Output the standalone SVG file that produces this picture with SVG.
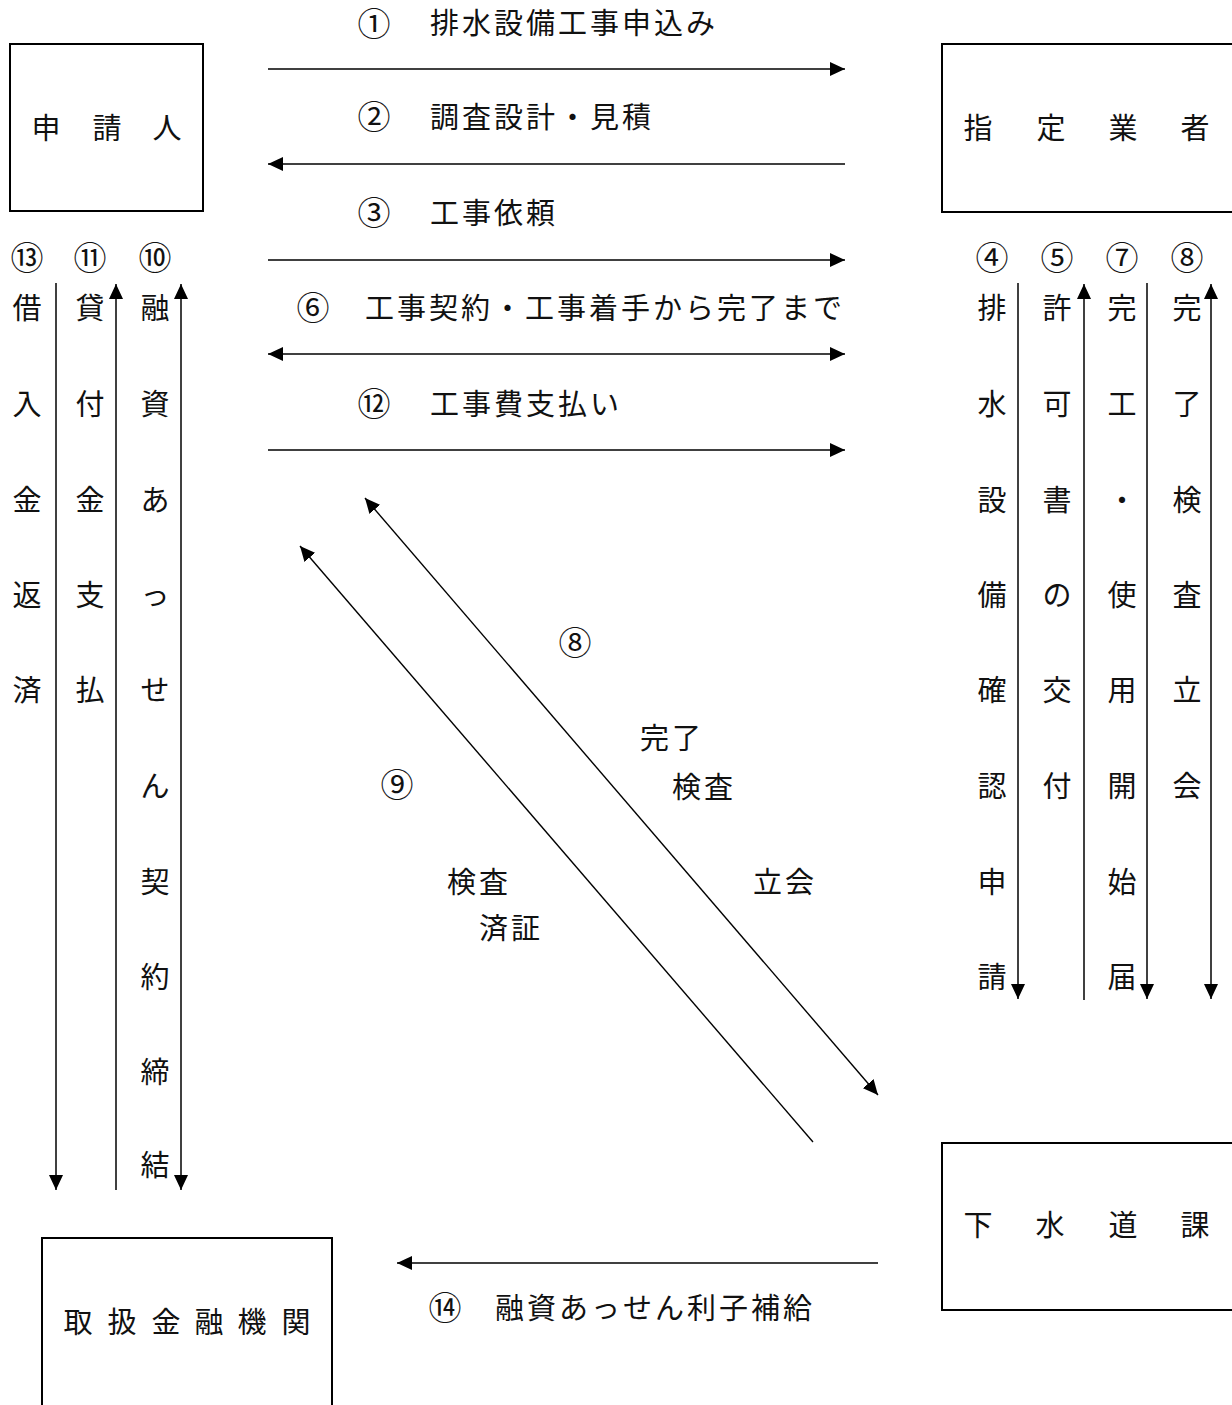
<svg xmlns="http://www.w3.org/2000/svg" width="1232" height="1405" viewBox="0 0 1232 1405">
<style>
text{font-family:"Noto Sans CJK JP","Noto Sans CJK SC",sans-serif;font-size:29px;fill:#111;}
.h{letter-spacing:3px;}
.m{text-anchor:middle;}
.c{text-anchor:middle;font-size:33px;}
.box{fill:#fff;stroke:#000;stroke-width:2;}
.ln{stroke:#000;stroke-width:1.5;fill:none;}
.dg{stroke:#000;stroke-width:1.4;fill:none;}
</style>
<defs>
<marker id="ah" markerUnits="userSpaceOnUse" markerWidth="15" markerHeight="14" refX="15" refY="7" orient="auto-start-reverse" viewBox="0 0 15 14">
<path d="M0,0 L15,7 L0,14 z" fill="#000"/>
</marker>
</defs>
<rect width="1232" height="1405" fill="#fff"/>

<g id="node-shinseinin">
<rect class="box" x="10" y="44" width="193" height="167"/>
<text class="m" x="46" y="139">申</text>
<text class="m" x="107" y="139">請</text>
<text class="m" x="167" y="139">人</text>
</g>

<g id="node-shitei">
<rect class="box" x="942" y="44" width="292" height="168"/>
<text class="m" x="978" y="139">指</text>
<text class="m" x="1051" y="139">定</text>
<text class="m" x="1123" y="139">業</text>
<text class="m" x="1195" y="139">者</text>
</g>

<g id="node-gesuido">
<rect class="box" x="942" y="1143" width="292" height="167"/>
<text class="m" x="978" y="1236">下</text>
<text class="m" x="1050" y="1236">水</text>
<text class="m" x="1123" y="1236">道</text>
<text class="m" x="1195" y="1236">課</text>
</g>

<g id="node-kinyu">
<rect class="box" x="42" y="1238" width="290" height="180"/>
<text class="m" x="78" y="1333">取</text>
<text class="m" x="122" y="1333">扱</text>
<text class="m" x="166" y="1333">金</text>
<text class="m" x="209" y="1333">融</text>
<text class="m" x="252" y="1333">機</text>
<text class="m" x="296" y="1333">関</text>
</g>

<g id="connectors">
<line class="ln" x1="268" y1="69" x2="845" y2="69" marker-end="url(#ah)"/>
<line class="ln" x1="845" y1="164" x2="268" y2="164" marker-end="url(#ah)"/>
<line class="ln" x1="268" y1="260" x2="845" y2="260" marker-end="url(#ah)"/>
<line class="ln" x1="268" y1="354" x2="845" y2="354" marker-start="url(#ah)" marker-end="url(#ah)"/>
<line class="ln" x1="268" y1="450" x2="845" y2="450" marker-end="url(#ah)"/>
<line class="ln" x1="878" y1="1263" x2="397" y2="1263" marker-end="url(#ah)"/>

<line class="ln" x1="56" y1="283" x2="56" y2="1190" marker-end="url(#ah)"/>
<line class="ln" x1="116" y1="1190" x2="116" y2="284" marker-end="url(#ah)"/>
<line class="ln" x1="181" y1="284" x2="181" y2="1190" marker-start="url(#ah)" marker-end="url(#ah)"/>

<line class="ln" x1="1018" y1="283" x2="1018" y2="999" marker-end="url(#ah)"/>
<line class="ln" x1="1084" y1="1000" x2="1084" y2="284" marker-end="url(#ah)"/>
<line class="ln" x1="1147" y1="283" x2="1147" y2="999" marker-end="url(#ah)"/>
<line class="ln" x1="1211" y1="284" x2="1211" y2="999" marker-start="url(#ah)" marker-end="url(#ah)"/>

<line class="dg" x1="365" y1="498" x2="878" y2="1095" marker-start="url(#ah)" marker-end="url(#ah)"/>
<line class="dg" x1="813" y1="1142" x2="300" y2="546" marker-end="url(#ah)"/>
</g>

<g id="labels-horizontal">
<text class="c" x="374" y="36">①</text><text class="h" x="430" y="34">排水設備工事申込み</text>
<text class="c" x="374" y="129">②</text><text class="h" x="430" y="128">調査設計・見積</text>
<text class="c" x="374" y="225">③</text><text class="h" x="430" y="224">工事依頼</text>
<text class="c" x="313" y="320">⑥</text><text class="h" x="365" y="319">工事契約・工事着手から完了まで</text>
<text class="c" x="374" y="416">⑫</text><text class="h" x="430" y="415">工事費支払い</text>
<text class="c" x="445" y="1320">⑭</text><text class="h" x="495" y="1319">融資あっせん利子補給</text>
</g>

<g id="labels-diagonal">
<text class="c" x="575" y="655">⑧</text>
<text class="h" x="640" y="749">完了</text>
<text class="h" x="672" y="798">検査</text>
<text class="h" x="753" y="893">立会</text>
<text class="c" x="397" y="797">⑨</text>
<text class="h" x="447" y="893">検査</text>
<text class="h" x="479" y="939">済証</text>
</g>

<g id="labels-left">
<text class="c" x="27" y="270">⑬</text>
<text class="c" x="90" y="270">⑪</text>
<text class="c" x="155" y="270">⑩</text>
<text class="m"><tspan x="27" y="319">借</tspan><tspan x="27" y="415">入</tspan><tspan x="27" y="511">金</tspan><tspan x="27" y="606">返</tspan><tspan x="27" y="701">済</tspan></text>
<text class="m"><tspan x="90" y="319">貸</tspan><tspan x="90" y="415">付</tspan><tspan x="90" y="511">金</tspan><tspan x="90" y="606">支</tspan><tspan x="90" y="701">払</tspan></text>
<text class="m"><tspan x="155" y="319">融</tspan><tspan x="155" y="415">資</tspan><tspan x="155" y="511">あ</tspan><tspan x="155" y="606">っ</tspan><tspan x="155" y="701">せ</tspan><tspan x="155" y="797">ん</tspan><tspan x="155" y="893">契</tspan><tspan x="155" y="988">約</tspan><tspan x="155" y="1083">締</tspan><tspan x="155" y="1176">結</tspan></text>
</g>

<g id="labels-right">
<text class="c" x="992" y="270">④</text>
<text class="c" x="1057" y="270">⑤</text>
<text class="c" x="1122" y="270">⑦</text>
<text class="c" x="1187" y="270">⑧</text>
<text class="m"><tspan x="992" y="319">排</tspan><tspan x="992" y="415">水</tspan><tspan x="992" y="511">設</tspan><tspan x="992" y="606">備</tspan><tspan x="992" y="701">確</tspan><tspan x="992" y="797">認</tspan><tspan x="992" y="893">申</tspan><tspan x="992" y="988">請</tspan></text>
<text class="m"><tspan x="1057" y="319">許</tspan><tspan x="1057" y="415">可</tspan><tspan x="1057" y="511">書</tspan><tspan x="1057" y="606">の</tspan><tspan x="1057" y="701">交</tspan><tspan x="1057" y="797">付</tspan></text>
<text class="m"><tspan x="1122" y="319">完</tspan><tspan x="1122" y="415">工</tspan><tspan x="1122" y="511">・</tspan><tspan x="1122" y="606">使</tspan><tspan x="1122" y="701">用</tspan><tspan x="1122" y="797">開</tspan><tspan x="1122" y="893">始</tspan><tspan x="1122" y="988">届</tspan></text>
<text class="m"><tspan x="1187" y="319">完</tspan><tspan x="1187" y="415">了</tspan><tspan x="1187" y="511">検</tspan><tspan x="1187" y="606">査</tspan><tspan x="1187" y="701">立</tspan><tspan x="1187" y="797">会</tspan></text>
</g>
</svg>
